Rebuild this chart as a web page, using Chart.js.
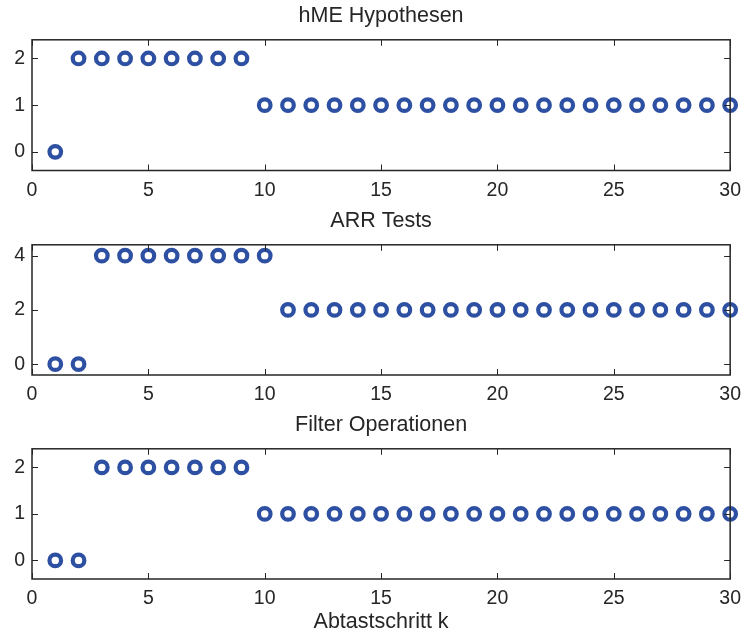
<!DOCTYPE html>
<html>
<head>
<meta charset="utf-8">
<title>Abtastschritt k</title>
<script src="https://cdn.jsdelivr.net/npm/chart.js@4/dist/chart.umd.min.js"></script>
<style>
  html, body { margin: 0; padding: 0; background: #fff; }
  #wrap { position: relative; width: 749px; height: 636px; overflow: hidden; }
  #wrap canvas { position: absolute; left: 0; }
</style>
</head>
<body>
<div id="wrap">
  <canvas id="hmeChart" width="749" height="205" style="top:0px"></canvas>
  <canvas id="arrChart" width="749" height="204" style="top:205px"></canvas>
  <canvas id="filterChart" width="749" height="227" style="top:409px"></canvas>
</div>
<script>
// data
const kSteps = [1, 2, 3, 4, 5, 6, 7, 8, 9, 10, 11, 12, 13, 14, 15, 16, 17, 18, 19, 20, 21, 22, 23, 24, 25, 26, 27, 28, 29, 30];
const hmeHypothesen = [0, 2, 2, 2, 2, 2, 2, 2, 2, 1, 1, 1, 1, 1, 1, 1, 1, 1, 1, 1, 1, 1, 1, 1, 1, 1, 1, 1, 1, 1];
const arrTests = [0, 0, 4, 4, 4, 4, 4, 4, 4, 4, 2, 2, 2, 2, 2, 2, 2, 2, 2, 2, 2, 2, 2, 2, 2, 2, 2, 2, 2, 2];
const filterOperationen = [0, 0, 2, 2, 2, 2, 2, 2, 2, 1, 1, 1, 1, 1, 1, 1, 1, 1, 1, 1, 1, 1, 1, 1, 1, 1, 1, 1, 1, 1];

const xTicks = [0, 5, 10, 15, 20, 25, 30];
const yTicksSmall = [0, 1, 2];
const yTicksArr = [0, 2, 4];

const FONT = '"Liberation Sans", Arial, Helvetica, sans-serif';
const TEXT = '#262626';
const MARKER = '#2e50a2';

// MATLAB-like box with inward tick marks, drawn over the markers
const boxPlugin = {
  id: 'boxPlugin',
  afterDatasetsDraw(chart) {
    const { ctx, chartArea: a, scales } = chart;
    const len = 6;
    ctx.save();
    ctx.strokeStyle = TEXT;
    ctx.lineWidth = 1;
    ctx.beginPath();
    scales.x.ticks.forEach(t => {
      const px = Math.round(scales.x.getPixelForValue(t.value)) + 0.5;
      ctx.moveTo(px, a.bottom); ctx.lineTo(px, a.bottom - len);
      ctx.moveTo(px, a.top); ctx.lineTo(px, a.top + len);
    });
    scales.y.ticks.forEach(t => {
      const py = Math.round(scales.y.getPixelForValue(t.value)) + 0.5;
      ctx.moveTo(a.left, py); ctx.lineTo(a.left + len, py);
      ctx.moveTo(a.right, py); ctx.lineTo(a.right - len, py);
    });
    ctx.stroke();
    ctx.lineWidth = 1.5;
    ctx.strokeRect(a.left, a.top, a.right - a.left, a.bottom - a.top);
    ctx.restore();
  }
};

function makeSubplot(id, title, values, yMin, yMax, yTicks, xAxisHeight, xTitle) {
  const points = kSteps.map((k, i) => ({ x: k, y: values[i] }));
  new Chart(document.getElementById(id), {
    type: 'scatter',
    data: {
      datasets: [{
        data: points,
        borderColor: MARKER,
        backgroundColor: 'rgba(0,0,0,0)',
        pointRadius: 5.8,
        pointHoverRadius: 5.8,
        borderWidth: 4.2,
        pointBorderWidth: 4.2,
        clip: false
      }]
    },
    options: {
      responsive: false,
      animation: false,
      events: [],
      layout: { padding: { left: 0, right: 13, top: 0, bottom: 0 } },
      plugins: {
        legend: { display: false },
        tooltip: { enabled: false },
        title: {
          display: true,
          text: title,
          fullSize: false,
          color: TEXT,
          font: { family: FONT, size: 21.5, weight: 'normal' },
          padding: { top: 3, bottom: 11 }
        }
      },
      scales: {
        x: {
          type: 'linear',
          min: 0,
          max: 30,
          grid: { display: false, drawTicks: false },
          border: { display: false },
          ticks: {
            color: TEXT,
            font: { family: FONT, size: 19.5 },
            padding: 8,
            maxRotation: 0,
            autoSkip: false
          },
          title: {
            display: !!xTitle,
            text: xTitle || '',
            color: TEXT,
            font: { family: FONT, size: 21.5 },
            padding: { top: 0, bottom: 1 }
          },
          afterBuildTicks: s => { s.ticks = xTicks.map(v => ({ value: v })); },
          afterFit: s => { s.height = xAxisHeight; }
        },
        y: {
          type: 'linear',
          min: yMin,
          max: yMax,
          grid: { display: false, drawTicks: false },
          border: { display: false },
          ticks: {
            color: TEXT,
            font: { family: FONT, size: 19.5 },
            padding: 7
          },
          afterBuildTicks: s => { s.ticks = yTicks.map(v => ({ value: v })); },
          afterFit: s => { s.width = 32; }
        }
      }
    },
    plugins: [boxPlugin]
  });
}

makeSubplot('hmeChart', 'hME Hypothesen', hmeHypothesen, -0.4, 2.4, yTicksSmall, 34.5, null);
makeSubplot('arrChart', 'ARR Tests', arrTests, -0.4, 4.4, yTicksArr, 34, null);
makeSubplot('filterChart', 'Filter Operationen', filterOperationen, -0.4, 2.4, yTicksSmall, 57, 'Abtastschritt k');
</script>
</body>
</html>
